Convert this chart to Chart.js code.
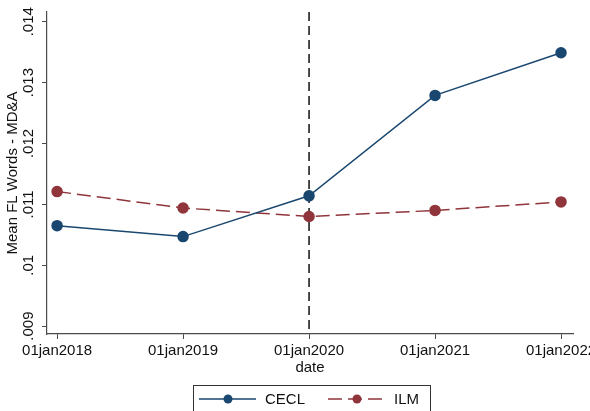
<!DOCTYPE html>
<html>
<head>
<meta charset="utf-8">
<script src="https://cdn.jsdelivr.net/npm/chart.js@4/dist/chart.umd.min.js"></script>
<style>
  html, body { margin: 0; padding: 0; background: #fff; overflow: hidden; }
  #wrap { width: 590px; height: 411px; }
</style>
</head>
<body>
<div id="wrap"><canvas id="chart"></canvas></div>
<script>
// data
const years = [2018, 2019, 2020, 2021, 2022];
const cecl = [0.01065, 0.01047, 0.01114, 0.01279, 0.01349];
const ilm = [0.01121, 0.01094, 0.01080, 0.01090, 0.01104];
const yTicks = [0.009, 0.010, 0.011, 0.012, 0.013, 0.014];
const yTickLabels = [".009", ".01", ".011", ".012", ".013", ".014"];
const eventYear = 2020;

const FONT = "'Liberation Sans', Arial, sans-serif";
const NAVY = "#1a476f";
const MAROON = "#90353b";
const AXIS = "#4a4a4a";

const toPoints = (vals) => years.map((yr, i) => ({ x: yr, y: vals[i] }));

// Stata-like labels, legend box and event line
const stataDecor = {
  id: "stataDecor",
  beforeDatasetsDraw(chart) {
    const { ctx, chartArea, scales } = chart;
    const x = scales.x.getPixelForValue(eventYear);
    ctx.save();
    ctx.strokeStyle = "#111";
    ctx.lineWidth = 1.5;
    ctx.setLineDash([9, 5]);
    ctx.beginPath();
    ctx.moveTo(x, chartArea.top);
    ctx.lineTo(x, chartArea.bottom);
    ctx.stroke();
    ctx.restore();
  },
  afterDraw(chart) {
    const { ctx, chartArea, scales } = chart;
    ctx.save();
    ctx.fillStyle = "#111";
    ctx.font = "15px " + FONT;

    // y tick labels, rotated
    yTicks.forEach((v, i) => {
      const py = scales.y.getPixelForValue(v);
      ctx.save();
      ctx.translate(33, py);
      ctx.rotate(-Math.PI / 2);
      ctx.textAlign = "center";
      ctx.textBaseline = "alphabetic";
      ctx.fillText(yTickLabels[i], 0, 0);
      ctx.restore();
    });

    // y title
    ctx.save();
    ctx.translate(17, (chartArea.top + chartArea.bottom) / 2);
    ctx.rotate(-Math.PI / 2);
    ctx.textAlign = "center";
    ctx.textBaseline = "alphabetic";
    ctx.fillText("Mean FL Words - MD&A", 0, 0);
    ctx.restore();

    // x tick labels
    ctx.textAlign = "center";
    ctx.textBaseline = "alphabetic";
    years.forEach((yr) => {
      const px = scales.x.getPixelForValue(yr);
      ctx.fillText("01jan" + yr, px, chartArea.bottom + 21);
    });
    ctx.fillText("date", (chartArea.left + chartArea.right) / 2, chartArea.bottom + 38);

    // legend box
    const lx = 193, ly = 385, lw = 237, lh = 40;
    ctx.strokeStyle = "#333";
    ctx.lineWidth = 1;
    ctx.strokeRect(lx + 0.5, ly + 0.5, lw, lh);
    const items = chart.data.datasets;
    const starts = [199, 328];
    items.forEach((ds, i) => {
      const x0 = starts[i], cy = 399;
      ctx.strokeStyle = ds.borderColor;
      ctx.lineWidth = 1.5;
      ctx.setLineDash(ds.borderDash || []);
      ctx.beginPath();
      ctx.moveTo(x0, cy);
      ctx.lineTo(x0 + 57, cy);
      ctx.stroke();
      ctx.setLineDash([]);
      ctx.fillStyle = ds.pointBackgroundColor;
      ctx.beginPath();
      ctx.arc(x0 + 29, cy, 4.5, 0, Math.PI * 2);
      ctx.fill();
      ctx.fillStyle = "#111";
      ctx.textAlign = "left";
      ctx.textBaseline = "middle";
      ctx.fillText(ds.label, x0 + 66, cy + 1);
    });
    ctx.restore();
  },
};

new Chart(document.getElementById("chart"), {
  type: "line",
  data: {
    datasets: [
      {
        label: "CECL",
        data: toPoints(cecl),
        borderColor: NAVY,
        backgroundColor: NAVY,
        pointBackgroundColor: NAVY,
        pointBorderColor: NAVY,
        borderWidth: 1.5,
        pointRadius: 5,
        tension: 0,
      },
      {
        label: "ILM",
        data: toPoints(ilm),
        borderColor: MAROON,
        backgroundColor: MAROON,
        pointBackgroundColor: MAROON,
        pointBorderColor: MAROON,
        borderWidth: 1.5,
        borderDash: [14, 6],
        pointRadius: 5,
        tension: 0,
      },
    ],
  },
  options: {
    responsive: true,
    maintainAspectRatio: false,
    animation: false,
    layout: { padding: { top: 12, right: 17, left: 0, bottom: 0 } },
    plugins: { legend: { display: false }, tooltip: { enabled: false } },
    scales: {
      x: {
        type: "linear",
        min: 2017.92,
        max: 2022.095,
        afterBuildTicks: (scale) => {
          scale.ticks = years.map((v) => ({ value: v }));
        },
        afterFit: (scale) => {
          scale.height = 77;
          scale.paddingLeft = 0;
          scale.paddingRight = 0;
        },
        ticks: { display: false },
        grid: { drawOnChartArea: false, drawTicks: true, tickLength: 5, color: AXIS, lineWidth: 1 },
        border: { display: true, color: AXIS, width: 1.2 },
      },
      y: {
        type: "linear",
        min: 0.00887,
        max: 0.01416,
        afterBuildTicks: (scale) => {
          scale.ticks = yTicks.map((v) => ({ value: v }));
        },
        afterFit: (scale) => {
          scale.width = 47;
          scale.paddingTop = 0;
          scale.paddingBottom = 0;
        },
        ticks: { display: false },
        grid: { drawOnChartArea: false, drawTicks: true, tickLength: 5, color: AXIS, lineWidth: 1 },
        border: { display: true, color: AXIS, width: 1.2 },
      },
    },
  },
  plugins: [stataDecor],
});
</script>
</body>
</html>
